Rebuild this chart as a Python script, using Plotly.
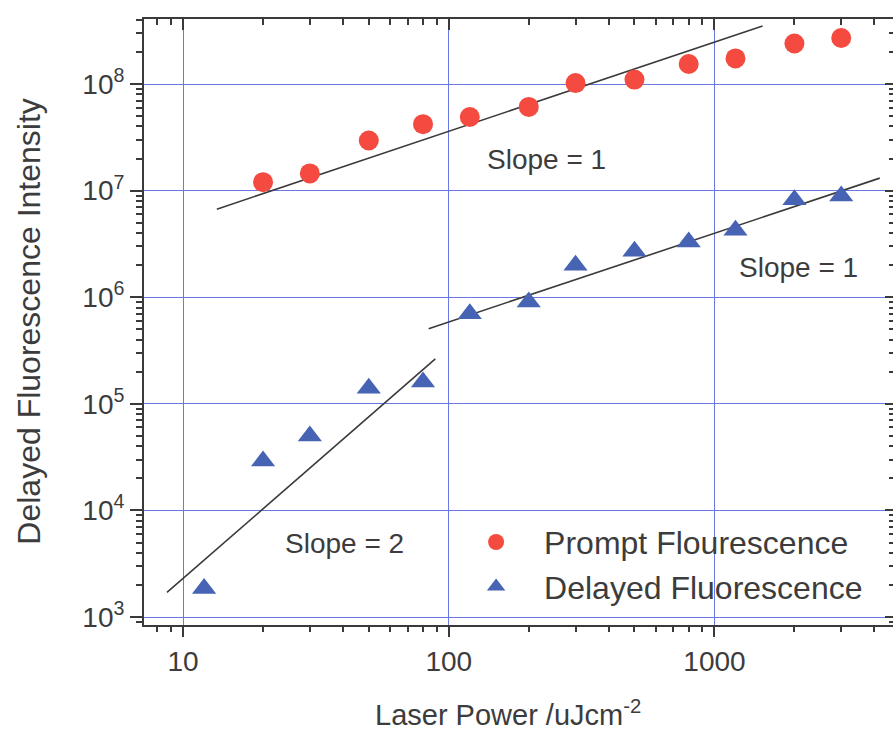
import numpy as np
import plotly.graph_objects as go

# Laser power (uJ/cm^2) and measured intensities
prompt_power = [20, 30, 50, 80, 120, 200, 300, 500, 800, 1200, 2000, 3000]
prompt_intensity = [1.2e7, 1.45e7, 2.95e7, 4.2e7, 4.9e7, 6.1e7, 1.02e8, 1.1e8,
                    1.54e8, 1.74e8, 2.4e8, 2.7e8]

delayed_power = [12, 20, 30, 50, 80, 120, 200, 300, 500, 800, 1200, 2000, 3000]
delayed_intensity = [1.85e3, 2.9e4, 5.0e4, 1.4e5, 1.6e5, 7.0e5, 9.0e5, 2.0e6,
                     2.7e6, 3.3e6, 4.25e6, 8.2e6, 8.9e6]

# Guide lines (end points) for the power-law regimes
guide_prompt_x = [13.4, 1517]
guide_prompt_y = [6.7e6, 3.5e8]
guide_delayed_hi_x = [84, 4190]
guide_delayed_hi_y = [5.07e5, 1.31e7]
guide_delayed_lo_x = [8.7, 89]
guide_delayed_lo_y = [1.7e3, 2.64e5]

x_tickvals = [10, 100, 1000]
x_ticktext = ["10", "100", "1000"]
y_tickvals = [1e3, 1e4, 1e5, 1e6, 1e7, 1e8]
y_ticktext = ["10<sup>3</sup>", "10<sup>4</sup>", "10<sup>5</sup>",
              "10<sup>6</sup>", "10<sup>7</sup>", "10<sup>8</sup>"]

x_range = [0.853, 3.672]
y_range = [2.925, 8.61]

def minor_positions(lo, hi):
    vals = []
    for k in range(int(np.floor(lo)) - 1, int(np.ceil(hi)) + 1):
        for m in range(2, 10):
            v = m * 10.0 ** k
            if lo <= np.log10(v) <= hi:
                vals.append(v)
    return vals

x_minor = minor_positions(*x_range)
y_minor = minor_positions(*y_range)

RED = "#F44A3F"
BLUE = "#4763B3"
AXIS = "#3a3a3a"
GRID = "#6a78e6"
TEXT = "#3c3c3c"
FONT = "Liberation Sans, Arial, sans-serif"

fig = go.Figure()

for gx, gy in [(guide_prompt_x, guide_prompt_y),
               (guide_delayed_hi_x, guide_delayed_hi_y),
               (guide_delayed_lo_x, guide_delayed_lo_y)]:
    fig.add_trace(go.Scatter(x=gx, y=gy, mode="lines",
                             line=dict(color="#3a3a3a", width=1.6),
                             showlegend=False, hoverinfo="skip"))

fig.add_trace(go.Scatter(x=prompt_power, y=prompt_intensity, mode="markers",
                         name="Prompt Flourescence",
                         marker=dict(symbol="circle", size=20, color=RED)))
fig.add_trace(go.Scatter(x=delayed_power, y=delayed_intensity, mode="markers",
                         name="Delayed Fluorescence",
                         marker=dict(symbol="triangle-up", size=21, color=BLUE)))

# empty traces so the mirrored top/right frame axes are rendered
fig.add_trace(go.Scatter(x=[], y=[], xaxis="x2", yaxis="y", showlegend=False))
fig.add_trace(go.Scatter(x=[], y=[], xaxis="x", yaxis="y2", showlegend=False))

tickfont = dict(family=FONT, size=28, color=TEXT)

fig.update_layout(
    width=893, height=732,
    margin=dict(l=144, r=0, t=19, b=107),
    paper_bgcolor="white", plot_bgcolor="white",
    font=dict(family=FONT, color=TEXT),
    xaxis=dict(type="log", range=x_range, tickvals=x_tickvals, ticktext=x_ticktext,
               showline=True, linecolor=AXIS, linewidth=2,
               ticks="outside", ticklen=10, tickwidth=2, tickcolor=AXIS,
               showgrid=True, gridcolor=GRID, gridwidth=1, zeroline=False,
               tickfont=tickfont,
               minor=dict(tickvals=x_minor, ticks="outside", ticklen=5,
                          tickwidth=1.5, tickcolor=AXIS, showgrid=False)),
    xaxis2=dict(type="log", range=x_range, overlaying="x", side="top", anchor="y",
                tickvals=x_tickvals, showticklabels=False,
                showline=True, linecolor=AXIS, linewidth=2,
                ticks="inside", ticklen=11, tickwidth=2, tickcolor=AXIS,
                showgrid=False, zeroline=False,
                minor=dict(tickvals=x_minor, ticks="inside", ticklen=6,
                           tickwidth=1.5, tickcolor=AXIS, showgrid=False)),
    yaxis=dict(type="log", range=y_range, tickvals=y_tickvals, ticktext=y_ticktext,
               showline=True, linecolor=AXIS, linewidth=2,
               ticks="outside", ticklen=12, tickwidth=2, tickcolor=AXIS,
               showgrid=True, gridcolor=GRID, gridwidth=1, zeroline=False,
               tickfont=tickfont,
               minor=dict(tickvals=y_minor, ticks="outside", ticklen=6,
                          tickwidth=1.5, tickcolor=AXIS, showgrid=False)),
    yaxis2=dict(type="log", range=y_range, overlaying="y", side="right", anchor="x",
                tickvals=y_tickvals, showticklabels=False, showline=False,
                ticks="inside", ticklen=8, tickwidth=2, tickcolor=AXIS,
                showgrid=False, zeroline=False,
                minor=dict(tickvals=y_minor, ticks="inside", ticklen=4,
                           tickwidth=1.5, tickcolor=AXIS, showgrid=False)),
    legend=dict(x=0.406, y=0.182, xanchor="left", yanchor="top",
                bgcolor="rgba(0,0,0,0)", borderwidth=0,
                font=dict(family=FONT, size=32, color=TEXT),
                itemwidth=86),
    showlegend=True,
)

annot_font = dict(family=FONT, size=28, color=TEXT)
fig.add_annotation(x=np.log10(234), y=7.296, text="Slope = 1", showarrow=False,
                   font=annot_font, xref="x", yref="y")
fig.add_annotation(x=3.317, y=6.283, text="Slope = 1", showarrow=False,
                   font=annot_font, xref="x", yref="y")
fig.add_annotation(x=1.608, y=3.694, text="Slope = 2", showarrow=False,
                   font=annot_font, xref="x", yref="y")

# axis titles
fig.add_annotation(x=0.486, y=-0.145, xref="paper", yref="paper",
                   xanchor="center", yanchor="middle",
                   text="Laser Power /uJcm<sup>-2</sup>", showarrow=False,
                   font=dict(family=FONT, size=29, color=TEXT))
fig.add_annotation(x=-0.154, y=0.50, xref="paper", yref="paper",
                   xanchor="center", yanchor="middle",
                   text="Delayed Fluorescence Intensity", showarrow=False,
                   textangle=-90, font=dict(family=FONT, size=32, color=TEXT))

fig.write_html("out.html")
